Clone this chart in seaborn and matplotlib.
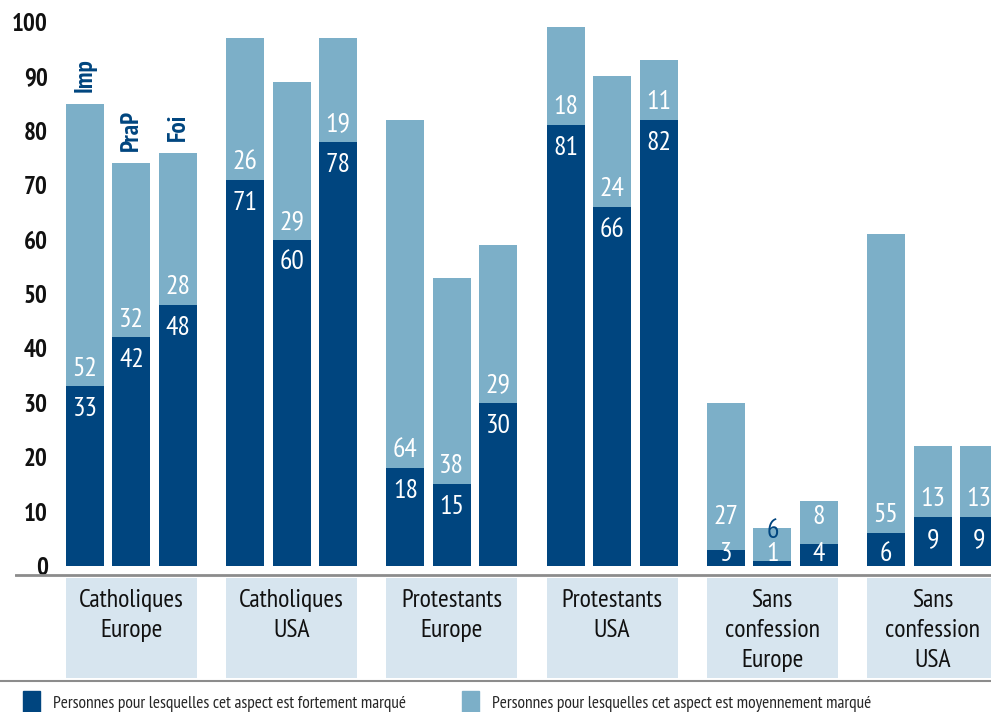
import matplotlib
matplotlib.use("Agg")
import matplotlib.pyplot as plt
from matplotlib.patches import Patch
from matplotlib.lines import Line2D
import seaborn as sns
import pandas as pd

# --- data -------------------------------------------------------------
groups = ["Catholiques\nEurope", "Catholiques\nUSA", "Protestants\nEurope",
          "Protestants\nUSA", "Sans\nconfession\nEurope", "Sans\nconfession\nUSA"]
measures = ["Imp", "PraP", "Foi"]
# share of people for whom the aspect is strongly marked
fort = [[33, 42, 48], [71, 60, 78], [18, 15, 30],
        [81, 66, 82], [3, 1, 4], [6, 9, 9]]
# share of people for whom the aspect is moderately marked
moyen = [[52, 32, 28], [26, 29, 19], [64, 38, 29],
         [18, 24, 11], [27, 6, 8], [55, 13, 13]]
yticks = list(range(0, 101, 10))
legend_labels = ["Personnes pour lesquelles cet aspect est fortement marqué",
                 "Personnes pour lesquelles cet aspect est moyennement marqué"]

rows = []
for g, grp in enumerate(groups):
    for m, meas in enumerate(measures):
        rows.append({"group": grp, "measure": meas,
                     "fort": fort[g][m], "moyen": moyen[g][m],
                     "total": fort[g][m] + moyen[g][m]})
df = pd.DataFrame(rows)

# --- style ------------------------------------------------------------
DARK = "#00457f"
LIGHT = "#7cafc8"
BOX = "#d7e5ef"
sns.set_style("white")
plt.rcParams["font.family"] = ["PT Sans Narrow", "Roboto Condensed",
                               "Archivo Narrow", "DejaVu Sans"]

fig = plt.figure(figsize=(9.91, 7.12), dpi=100)
ax = fig.add_axes([15 / 991, 32 / 712, 976 / 991, 680 / 712])

common = dict(data=df, x="group", hue="measure", hue_order=measures,
              order=groups, width=0.87, gap=0.183, errorbar=None,
              legend=False, saturation=1, linewidth=0, ax=ax)
sns.barplot(y="total", palette=[LIGHT] * 3, **common)
sns.barplot(y="fort", palette=[DARK] * 3, **common)

ax.set_xlim(-0.727, 5.365)
ax.set_ylim(-20.96, 104.04)
for s in ax.spines.values():
    s.set_visible(False)
ax.set_xlabel("")
ax.set_ylabel("")
ax.set_xticks([])
ax.set_yticks(yticks)
ax.set_yticklabels([str(t) for t in yticks], fontsize=18, fontweight="bold",
                   color="#111111")
ax.tick_params(axis="y", length=0, pad=-23.5)
ax.grid(False)

# category boxes under the baseline
n = len(groups)
ax.bar(range(n), [18.4] * n, bottom=-20.6, width=0.817, color=BOX,
       linewidth=0, zorder=0)
ax.axhline(-1.65, color="#8c8c8c", lw=2, zorder=3)
for g, grp in enumerate(groups):
    ax.text(g, -4.3, grp, ha="center", va="top", fontsize=18.5,
            color="#111111", linespacing=1.38)

# value labels
step = 0.29
for g in range(n):
    for m in range(3):
        x = g + (m - 1) * step
        f = fort[g][m]
        mo = moyen[g][m]
        yf = max(f - 4.2, 2.2)
        ax.text(x, yf, str(f), ha="center", va="center", fontsize=20,
                color="white")
        if mo < 7:
            ax.text(x, f + mo - 0.6, str(mo), ha="center", va="center",
                    fontsize=20, color=DARK)
        else:
            ym = max(f + 3.3, yf + 6.8)
            ax.text(x, ym, str(mo), ha="center", va="center", fontsize=20,
                    color="white")

# measure names above the first group
for m, meas in enumerate(measures):
    x = (m - 1) * step
    ax.text(x, fort[0][m] + moyen[0][m] + 2.2, meas, rotation=90,
            ha="center", va="bottom", fontsize=18, fontweight="bold",
            color=DARK)

# legend strip
fig.add_artist(Line2D([0, 1], [1 - 681 / 712] * 2, color="#8c8c8c", lw=1.5))
handles = [Patch(color=DARK), Patch(color=LIGHT)]
fig.legend(handles, legend_labels, loc="lower left",
           bbox_to_anchor=(0.016, -0.012), ncol=2, frameon=False,
           fontsize=12.5, handlelength=1.0, handleheight=1.6,
           handletextpad=0.75, columnspacing=3.2, borderaxespad=0)

fig.savefig("out.png", dpi=100)
